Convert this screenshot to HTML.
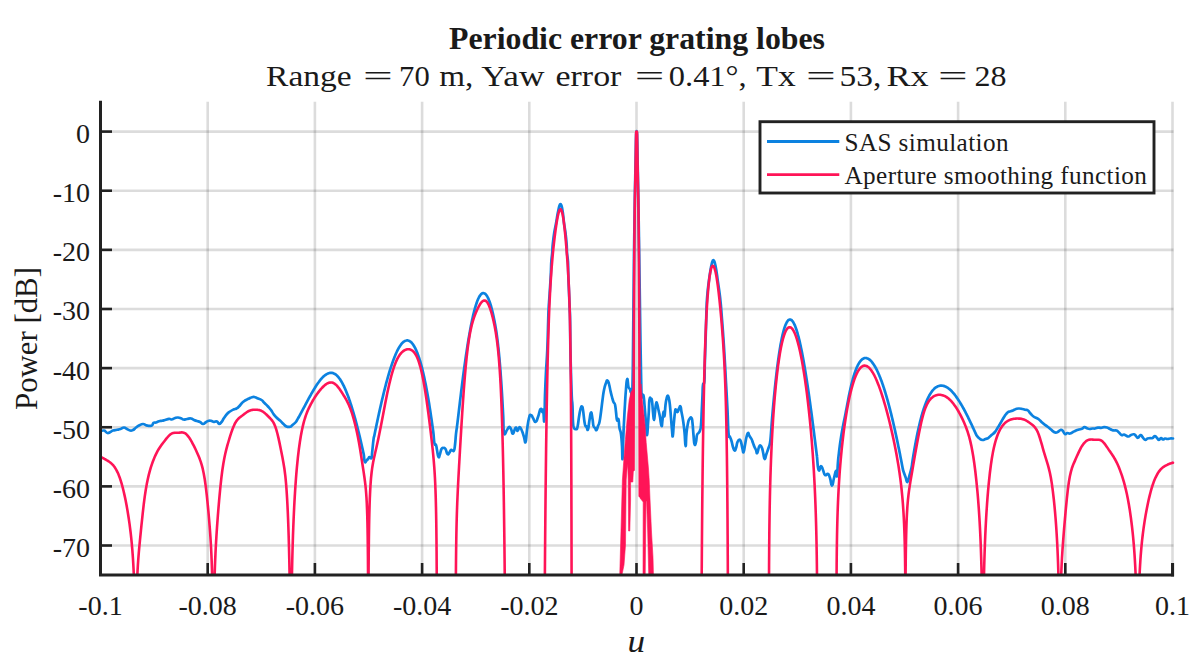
<!DOCTYPE html>
<html><head><meta charset="utf-8"><title>Periodic error grating lobes</title>
<style>
html,body{margin:0;padding:0;background:#fff;}
body{width:1200px;height:671px;overflow:hidden;font-family:"Liberation Serif",serif;}
svg{display:block}
text{font-family:"Liberation Serif",serif;fill:#1a1a1a}
</style></head><body>
<svg width="1200" height="671" viewBox="0 0 1200 671">
<rect width="1200" height="671" fill="#fff"/>
<defs><clipPath id="cp"><rect x="99" y="100" width="1076" height="475.4"/></clipPath></defs>
<g stroke="#262626" stroke-opacity="0.16" stroke-width="2.6" fill="none"><line x1="207.70" y1="101.8" x2="207.70" y2="575" /><line x1="314.90" y1="101.8" x2="314.90" y2="575" /><line x1="422.10" y1="101.8" x2="422.10" y2="575" /><line x1="529.30" y1="101.8" x2="529.30" y2="575" /><line x1="636.50" y1="101.8" x2="636.50" y2="575" /><line x1="743.70" y1="101.8" x2="743.70" y2="575" /><line x1="850.90" y1="101.8" x2="850.90" y2="575" /><line x1="958.10" y1="101.8" x2="958.10" y2="575" /><line x1="1065.30" y1="101.8" x2="1065.30" y2="575" /><line x1="1172.50" y1="101.8" x2="1172.50" y2="575" /><line x1="100.5" y1="131.60" x2="1173.5" y2="131.60" /><line x1="100.5" y1="190.73" x2="1173.5" y2="190.73" /><line x1="100.5" y1="249.86" x2="1173.5" y2="249.86" /><line x1="100.5" y1="308.99" x2="1173.5" y2="308.99" /><line x1="100.5" y1="368.12" x2="1173.5" y2="368.12" /><line x1="100.5" y1="427.25" x2="1173.5" y2="427.25" /><line x1="100.5" y1="486.38" x2="1173.5" y2="486.38" /><line x1="100.5" y1="545.51" x2="1173.5" y2="545.51" /></g>
<g clip-path="url(#cp)" fill="none" stroke-linejoin="round" stroke-linecap="round">
<path d="M100.50 431.00C101.43 430.87 102.67 430.37 104.00 430.50C105.33 430.63 104.57 430.83 105.50 431.50C106.43 432.17 106.30 432.81 107.50 433.00C108.70 433.19 108.53 432.87 110.00 432.20C111.47 431.53 111.13 431.14 113.00 430.50C114.87 429.86 115.00 430.20 117.00 429.80C119.00 429.40 118.63 429.61 120.50 429.00C122.37 428.39 122.27 427.50 124.00 427.50C125.73 427.50 125.40 428.20 127.00 429.00C128.60 429.80 128.40 430.23 130.00 430.50C131.60 430.77 131.40 430.80 133.00 430.00C134.60 429.20 134.40 428.70 136.00 427.50C137.60 426.30 137.13 426.43 139.00 425.50C140.87 424.57 141.13 424.05 143.00 424.00C144.87 423.95 144.40 424.82 146.00 425.30C147.60 425.78 147.40 425.75 149.00 425.80C150.60 425.85 150.80 426.30 152.00 425.50C153.20 424.70 152.43 423.60 153.50 422.80C154.57 422.00 154.53 422.93 156.00 422.50C157.47 422.07 157.40 421.65 159.00 421.20C160.60 420.75 160.40 421.12 162.00 420.80C163.60 420.48 163.13 420.53 165.00 420.00C166.87 419.47 167.27 418.93 169.00 418.80C170.73 418.67 169.90 419.71 171.50 419.50C173.10 419.29 173.27 418.53 175.00 418.00C176.73 417.47 176.40 417.45 178.00 417.50C179.60 417.55 179.53 417.67 181.00 418.20C182.47 418.73 181.90 419.29 183.50 419.50C185.10 419.71 185.00 419.27 187.00 419.00C189.00 418.73 189.13 418.23 191.00 418.50C192.87 418.77 192.40 419.33 194.00 420.00C195.60 420.67 195.40 420.47 197.00 421.00C198.60 421.53 198.40 421.20 200.00 422.00C201.60 422.80 201.53 423.87 203.00 424.00C204.47 424.13 204.17 423.30 205.50 422.50C206.83 421.70 206.53 421.45 208.00 421.00C209.47 420.55 209.40 420.59 211.00 420.80C212.60 421.01 212.40 421.61 214.00 421.80C215.60 421.99 215.67 420.97 217.00 421.50C218.33 422.03 217.80 423.67 219.00 423.80C220.20 423.93 220.17 423.55 221.50 422.00C222.83 420.45 222.53 420.13 224.00 418.00C225.47 415.87 225.40 415.73 227.00 414.00C228.60 412.27 228.27 412.70 230.00 411.50C231.73 410.30 231.77 410.30 233.50 409.50C235.23 408.70 235.03 409.30 236.50 408.50C237.97 407.70 237.53 407.97 239.00 406.50C240.47 405.03 240.40 404.60 242.00 403.00C243.60 401.40 243.27 401.62 245.00 400.50C246.73 399.38 246.63 399.68 248.50 398.80C250.37 397.92 250.27 397.63 252.00 397.20C253.73 396.77 253.40 396.85 255.00 397.20C256.60 397.55 256.27 397.75 258.00 398.50C259.73 399.25 259.77 398.80 261.50 400.00C263.23 401.20 262.77 401.27 264.50 403.00C266.23 404.73 266.27 404.63 268.00 406.50C269.73 408.37 269.53 408.00 271.00 410.00C272.47 412.00 272.03 412.00 273.50 414.00C274.97 416.00 274.77 415.77 276.50 417.50C278.23 419.23 278.13 418.77 280.00 420.50C281.87 422.23 281.77 422.40 283.50 424.00C285.23 425.60 284.77 425.75 286.50 426.50C288.23 427.25 288.40 427.20 290.00 426.80C291.60 426.40 290.90 426.32 292.50 425.00C294.10 423.68 294.85 423.04 296.00 421.84C296.80 420.63 296.37 421.22 296.80 420.50C297.23 419.77 297.17 419.86 297.60 419.13C298.03 418.39 297.97 418.48 298.40 417.73C298.83 416.98 298.77 417.08 299.20 416.31C299.63 415.55 299.57 415.65 300.00 414.87C300.43 414.10 300.37 414.20 300.80 413.42C301.23 412.63 301.17 412.73 301.60 411.94C302.03 411.15 301.97 411.25 302.40 410.46C302.83 409.66 302.77 409.76 303.20 408.96C303.63 408.16 303.57 408.26 304.00 407.46C304.43 406.65 304.37 406.75 304.80 405.95C305.23 405.15 305.17 405.25 305.60 404.44C306.03 403.64 305.97 403.74 306.40 402.94C306.83 402.14 306.77 402.24 307.20 401.44C307.63 400.64 307.57 400.74 308.00 399.94C308.43 399.15 308.37 399.25 308.80 398.46C309.23 397.68 309.17 397.77 309.60 396.99C310.03 396.21 309.97 396.31 310.40 395.54C310.83 394.77 310.77 394.87 311.20 394.11C311.63 393.35 311.57 393.44 312.00 392.69C312.43 391.95 312.37 392.04 312.80 391.31C313.23 390.57 313.17 390.66 313.60 389.95C314.03 389.23 313.97 389.32 314.40 388.62C314.83 387.92 314.77 388.00 315.20 387.32C315.63 386.64 315.57 386.73 316.00 386.06C316.43 385.40 316.37 385.48 316.80 384.84C317.23 384.21 317.17 384.28 317.60 383.67C318.03 383.05 317.97 383.13 318.40 382.53C318.83 381.94 318.77 382.01 319.20 381.45C319.63 380.88 319.57 380.95 320.00 380.41C320.43 379.88 320.37 379.94 320.80 379.43C321.23 378.92 321.17 378.99 321.60 378.51C322.03 378.03 321.97 378.09 322.40 377.64C322.83 377.20 322.77 377.25 323.20 376.84C323.63 376.43 323.57 376.48 324.00 376.10C324.43 375.72 324.37 375.77 324.80 375.43C325.23 375.09 325.17 375.13 325.60 374.83C326.03 374.53 325.97 374.56 326.40 374.30C326.83 374.04 326.77 374.07 327.20 373.85C327.63 373.63 327.57 373.66 328.00 373.48C328.43 373.31 328.37 373.32 328.80 373.19C329.23 373.06 329.17 373.08 329.60 372.99C330.03 372.91 329.97 372.91 330.40 372.87C330.83 372.84 330.77 372.84 331.20 372.85C331.63 372.86 331.57 372.86 332.00 372.92C332.43 372.98 332.37 372.97 332.80 373.08C333.23 373.20 333.17 373.18 333.60 373.35C334.03 373.52 333.97 373.49 334.40 373.72C334.83 373.94 334.77 373.91 335.20 374.19C335.63 374.47 335.57 374.43 336.00 374.77C336.43 375.11 336.37 375.06 336.80 375.46C337.23 375.85 337.17 375.80 337.60 376.26C338.03 376.71 337.97 376.65 338.40 377.16C338.83 377.68 338.77 377.61 339.20 378.18C339.63 378.75 339.57 378.67 340.00 379.30C340.43 379.93 340.37 379.84 340.80 380.52C341.23 381.21 341.17 381.12 341.60 381.85C342.03 382.59 341.97 382.49 342.40 383.28C342.83 384.07 342.77 383.97 343.20 384.81C343.63 385.66 343.57 385.55 344.00 386.44C344.43 387.34 344.37 387.22 344.80 388.17C345.23 389.12 345.17 389.00 345.60 389.99C346.03 390.99 345.97 390.86 346.40 391.91C346.83 392.96 346.77 392.83 347.20 393.93C347.63 395.02 347.57 394.88 348.00 396.03C348.43 397.18 348.37 397.03 348.80 398.23C349.23 399.43 349.17 399.27 349.60 400.52C350.03 401.76 349.97 401.60 350.40 402.89C350.83 404.19 350.77 404.02 351.20 405.36C351.63 406.70 351.57 406.53 352.00 407.91C352.43 409.29 352.37 409.12 352.80 410.55C353.23 411.97 353.17 411.79 353.60 413.27C354.03 414.74 353.97 414.55 354.40 416.07C354.83 417.58 354.77 417.39 355.20 418.95C355.63 420.51 355.57 420.31 356.00 421.91C356.43 423.51 356.37 423.31 356.80 424.95C357.23 426.60 357.17 426.39 357.60 428.07C358.03 429.76 357.97 429.54 358.40 431.27C358.83 432.99 358.77 432.77 359.20 434.54C359.63 436.30 359.57 436.08 360.00 437.88C360.43 439.68 360.37 439.46 360.80 441.30C361.23 443.14 361.17 442.90 361.60 444.78C362.03 446.66 361.97 446.42 362.40 448.34C362.83 450.25 362.83 450.26 363.20 451.96C363.57 453.66 363.37 452.10 363.80 454.72C364.23 457.35 364.08 460.26 364.80 461.80C365.52 463.34 365.65 461.25 366.50 460.50C367.35 459.75 367.20 459.93 368.00 459.00C368.80 458.07 368.57 457.27 369.50 457.00C370.43 456.73 370.78 459.33 371.50 458.00C372.20 456.67 371.67 456.88 372.20 452.00C372.73 447.12 372.94 444.04 373.50 439.70C374.06 435.36 373.87 437.83 374.30 435.72C374.73 433.61 374.67 433.87 375.10 431.79C375.53 429.71 375.47 429.96 375.90 427.91C376.33 425.85 376.27 426.10 376.70 424.08C377.13 422.05 377.07 422.30 377.50 420.30C377.93 418.30 377.87 418.55 378.30 416.58C378.73 414.61 378.67 414.85 379.10 412.91C379.53 410.98 379.47 411.22 379.90 409.31C380.33 407.41 380.27 407.64 380.70 405.77C381.13 403.90 381.07 404.13 381.50 402.30C381.93 400.46 381.87 400.69 382.30 398.89C382.73 397.10 382.67 397.32 383.10 395.56C383.53 393.80 383.47 394.02 383.90 392.30C384.33 390.58 384.27 390.79 384.70 389.11C385.13 387.43 385.07 387.64 385.50 386.00C385.93 384.37 385.87 384.57 386.30 382.97C386.73 381.38 386.67 381.58 387.10 380.03C387.53 378.48 387.47 378.67 387.90 377.17C388.33 375.67 388.27 375.85 388.70 374.40C389.13 372.94 389.07 373.12 389.50 371.71C389.93 370.31 389.87 370.48 390.30 369.12C390.73 367.77 390.67 367.93 391.10 366.63C391.53 365.32 391.47 365.48 391.90 364.23C392.33 362.98 392.27 363.13 392.70 361.93C393.13 360.74 393.07 360.88 393.50 359.74C393.93 358.59 393.87 358.73 394.30 357.65C394.73 356.56 394.67 356.69 395.10 355.66C395.53 354.63 395.47 354.76 395.90 353.79C396.33 352.82 396.27 352.93 396.70 352.03C397.13 351.12 397.07 351.22 397.50 350.38C397.93 349.53 397.87 349.63 398.30 348.84C398.73 348.06 398.67 348.15 399.10 347.43C399.53 346.71 399.47 346.80 399.90 346.14C400.33 345.49 400.27 345.56 400.70 344.97C401.13 344.39 401.07 344.46 401.50 343.93C401.93 343.41 401.87 343.47 402.30 343.02C402.73 342.57 402.67 342.62 403.10 342.24C403.53 341.86 403.47 341.91 403.90 341.60C404.33 341.29 404.27 341.32 404.70 341.09C405.13 340.85 405.07 340.88 405.50 340.72C405.93 340.56 405.87 340.57 406.30 340.49C406.73 340.40 406.67 340.41 407.10 340.40C407.53 340.39 407.47 340.39 407.90 340.46C408.33 340.53 408.27 340.51 408.70 340.67C409.13 340.82 409.07 340.79 409.50 341.02C409.93 341.26 409.87 341.22 410.30 341.54C410.73 341.85 410.67 341.80 411.10 342.20C411.53 342.60 411.47 342.54 411.90 343.03C412.33 343.51 412.27 343.44 412.70 344.01C413.13 344.58 413.07 344.51 413.50 345.16C413.93 345.82 413.87 345.73 414.30 346.48C414.73 347.22 414.67 347.12 415.10 347.96C415.53 348.79 415.47 348.68 415.90 349.61C416.33 350.54 416.27 350.42 416.70 351.44C417.13 352.46 417.07 352.32 417.50 353.44C417.93 354.55 417.87 354.40 418.30 355.61C418.73 356.82 418.67 356.66 419.10 357.97C419.53 359.28 419.47 359.11 419.90 360.51C420.33 361.91 420.27 361.73 420.70 363.24C421.13 364.74 421.07 364.54 421.50 366.15C421.93 367.75 421.87 367.54 422.30 369.25C422.73 370.95 422.67 370.73 423.10 372.54C423.53 374.35 423.47 374.12 423.90 376.03C424.33 377.94 424.27 377.70 424.70 379.72C425.13 381.73 425.07 381.48 425.50 383.60C425.93 385.73 425.87 385.45 426.30 387.69C426.73 389.92 426.67 389.63 427.10 391.98C427.53 394.32 427.47 394.02 427.90 396.48C428.33 398.93 428.27 398.62 428.70 401.18C429.13 403.75 429.07 403.42 429.50 406.10C429.93 408.78 429.87 408.44 430.30 411.23C430.73 414.03 430.67 413.67 431.10 416.58C431.53 419.49 431.47 419.12 431.90 422.15C432.33 425.18 432.27 424.79 432.70 427.94C433.13 431.08 433.02 429.80 433.50 433.95C433.98 438.10 433.83 440.55 434.50 443.50C435.17 446.45 435.33 443.27 436.00 445.00C436.67 446.73 436.33 446.80 437.00 450.00C437.67 453.20 437.70 455.93 438.50 457.00C439.30 458.07 439.20 456.13 440.00 454.00C440.80 451.87 440.57 450.60 441.50 449.00C442.43 447.40 442.43 448.00 443.50 448.00C444.57 448.00 444.43 447.40 445.50 449.00C446.57 450.60 446.43 453.07 447.50 454.00C448.57 454.93 448.57 453.57 449.50 452.50C450.43 451.43 450.20 450.53 451.00 450.00C451.80 449.47 451.70 450.37 452.50 450.50C453.30 450.63 453.33 451.97 454.00 450.50C454.67 449.03 454.47 449.42 455.00 445.00C455.53 440.58 455.52 438.47 456.00 433.91C456.48 429.36 456.37 431.21 456.80 427.93C457.23 424.65 457.17 425.05 457.60 421.61C458.03 418.17 457.97 418.58 458.40 415.01C458.83 411.45 458.77 411.86 459.20 408.25C459.63 404.63 459.57 405.05 460.00 401.46C460.43 397.88 460.37 398.32 460.80 394.80C461.23 391.29 461.17 391.73 461.60 388.30C462.03 384.87 461.97 385.29 462.40 381.96C462.83 378.62 462.77 379.03 463.20 375.78C463.63 372.53 463.57 372.93 464.00 369.78C464.43 366.62 464.37 367.01 464.80 363.95C465.23 360.90 465.17 361.27 465.60 358.31C466.03 355.36 465.97 355.72 466.40 352.87C466.83 350.02 466.77 350.37 467.20 347.62C467.63 344.88 467.57 345.22 468.00 342.58C468.43 339.95 468.37 340.27 468.80 337.76C469.23 335.24 469.17 335.54 469.60 333.14C470.03 330.74 469.97 331.04 470.40 328.76C470.83 326.48 470.77 326.75 471.20 324.60C471.63 322.45 471.57 322.71 472.00 320.68C472.43 318.66 472.37 318.90 472.80 317.01C473.23 315.11 473.17 315.34 473.60 313.58C474.03 311.82 473.97 312.03 474.40 310.41C474.83 308.79 474.77 308.98 475.20 307.50C475.63 306.02 475.57 306.19 476.00 304.85C476.43 303.51 476.37 303.67 476.80 302.47C477.23 301.27 477.17 301.41 477.60 300.35C478.03 299.29 477.97 299.42 478.40 298.50C478.83 297.58 478.77 297.69 479.20 296.92C479.63 296.15 479.57 296.23 480.00 295.61C480.43 294.98 480.37 295.05 480.80 294.57C481.23 294.09 481.17 294.14 481.60 293.81C482.03 293.48 481.97 293.51 482.40 293.33C482.83 293.14 482.77 293.16 483.20 293.12C483.63 293.09 483.57 293.08 484.00 293.20C484.43 293.31 484.37 293.29 484.80 293.55C485.23 293.82 485.17 293.78 485.60 294.20C486.03 294.61 485.97 294.55 486.40 295.12C486.83 295.70 486.77 295.61 487.20 296.34C487.63 297.07 487.57 296.97 488.00 297.85C488.43 298.73 488.37 298.61 488.80 299.65C489.23 300.68 489.17 300.54 489.60 301.74C490.03 302.93 489.97 302.77 490.40 304.13C490.83 305.48 490.77 305.30 491.20 306.81C491.63 308.32 491.57 308.12 492.00 309.80C492.43 311.47 492.37 311.25 492.80 313.08C493.23 314.92 493.17 314.68 493.60 316.67C494.03 318.67 493.97 318.39 494.40 320.57C494.83 322.75 494.77 322.43 495.20 324.84C495.63 327.25 495.57 326.90 496.00 329.61C496.43 332.32 496.37 331.92 496.80 335.00C497.23 338.08 497.17 337.63 497.60 341.15C498.03 344.66 497.97 344.16 498.40 348.18C498.83 352.20 498.77 351.63 499.20 356.22C499.63 360.82 499.57 360.17 500.00 365.41C500.43 370.64 500.37 369.91 500.80 375.86C501.23 381.80 501.17 380.98 501.60 387.70C502.03 394.42 501.97 393.50 502.40 401.07C502.83 408.64 502.77 407.60 503.20 416.09C503.63 424.58 503.20 429.18 504.00 432.89C505.01 436.60 505.67 431.57 507.00 430.00C508.33 428.43 507.93 427.27 509.00 427.00C510.07 426.73 509.93 427.24 511.00 429.00C512.07 430.76 511.77 433.97 513.00 433.60C514.23 433.23 514.37 428.29 515.60 427.60C516.83 426.91 516.53 431.16 517.60 431.00C518.67 430.84 518.43 427.00 519.60 427.00C520.77 427.00 520.83 428.33 522.00 431.00C523.17 433.67 523.04 434.07 524.00 437.00C524.96 439.93 524.80 443.87 525.60 442.00C526.40 440.13 526.09 436.40 527.00 430.00C527.91 423.60 527.93 422.00 529.00 418.00C530.07 414.00 529.93 415.00 531.00 415.00C532.07 415.00 531.77 416.13 533.00 418.00C534.23 419.87 534.27 422.27 535.60 422.00C536.93 421.73 536.67 420.47 538.00 417.00C539.33 413.53 539.43 410.33 540.60 409.00C541.77 407.67 541.68 411.60 542.40 412.00C543.12 412.40 542.82 407.97 543.30 410.50C543.78 413.03 543.83 421.63 544.20 421.50C544.57 421.37 544.49 417.07 544.70 410.00C544.91 402.93 544.70 405.13 545.00 395.00C545.35 384.87 545.39 384.13 546.00 372.00C546.61 359.87 546.71 363.23 547.30 349.50C547.89 335.77 547.85 331.30 548.20 320.50C548.55 309.70 548.23 315.99 548.60 309.00C548.97 302.01 549.01 303.45 549.60 294.30C550.19 285.15 550.35 283.34 550.80 274.70C551.25 266.06 550.93 267.69 551.30 261.90C551.67 256.11 551.83 257.51 552.20 253.00C552.57 248.49 552.20 250.33 552.70 245.00C553.23 239.67 553.29 238.87 554.20 233.00C555.11 227.13 555.01 229.00 556.10 223.00C557.19 217.00 557.13 215.57 558.30 210.50C559.47 205.43 559.38 204.00 560.50 204.00C561.62 204.00 561.57 205.43 562.50 210.50C563.43 215.57 563.20 217.00 564.00 223.00C564.80 229.00 564.78 227.13 565.50 233.00C566.22 238.87 566.30 239.67 566.70 245.00C567.00 250.33 566.70 248.49 567.00 253.00C567.35 257.51 567.65 256.11 568.00 261.90C568.30 267.69 568.01 266.06 568.30 274.70C568.59 283.34 568.73 285.15 569.10 294.30C569.47 303.45 569.43 302.01 569.70 309.00C569.97 315.99 569.91 309.70 570.10 320.50C570.29 331.30 570.10 330.43 570.40 349.50C570.80 368.57 571.04 376.93 571.60 392.00C572.16 407.07 572.13 398.00 572.50 406.00C572.87 414.00 572.60 416.13 573.00 422.00C573.40 427.87 573.20 426.13 574.00 428.00C574.80 429.87 575.07 429.27 576.00 429.00C576.93 428.73 576.70 430.20 577.50 427.00C578.30 423.80 578.20 421.80 579.00 417.00C579.80 412.20 579.70 411.80 580.50 409.00C581.30 406.20 581.33 406.23 582.00 406.50C582.67 406.77 582.33 405.87 583.00 410.00C583.67 414.13 583.83 417.73 584.50 422.00C585.17 426.27 584.97 424.80 585.50 426.00C586.03 427.20 585.83 425.57 586.50 426.50C587.17 427.43 587.20 431.23 588.00 429.50C588.80 427.77 588.70 424.53 589.50 420.00C590.30 415.47 590.20 412.77 591.00 412.50C591.80 412.23 591.83 415.40 592.50 419.00C593.17 422.60 592.83 423.60 593.50 426.00C594.17 428.40 594.20 426.93 595.00 428.00C595.80 429.07 595.70 430.53 596.50 430.00C597.30 429.47 597.20 428.13 598.00 426.00C598.80 423.87 598.70 425.73 599.50 422.00C600.30 418.27 600.20 417.87 601.00 412.00C601.80 406.13 601.70 405.87 602.50 400.00C603.30 394.13 603.07 394.53 604.00 390.00C604.93 385.47 605.07 385.53 606.00 383.00C606.93 380.47 606.70 380.23 607.50 380.50C608.30 380.77 608.20 381.20 609.00 384.00C609.80 386.80 609.70 387.53 610.50 391.00C611.30 394.47 611.20 394.07 612.00 397.00C612.80 399.93 612.70 400.00 613.50 402.00C614.30 404.00 614.33 401.83 615.00 404.50C615.67 407.17 615.47 407.87 616.00 412.00C616.53 416.13 616.33 418.00 617.00 420.00C617.67 422.00 617.83 417.37 618.50 419.50C619.17 421.63 618.83 424.13 619.50 428.00C620.17 431.87 620.33 429.20 621.00 434.00C621.67 438.80 621.60 439.33 622.00 446.00C622.40 452.67 622.18 460.60 622.50 459.00C622.82 457.40 622.80 449.87 623.20 440.00C623.60 430.13 623.52 431.60 624.00 422.00C624.48 412.40 624.47 412.80 625.00 404.00C625.53 395.20 625.41 395.67 626.00 389.00C626.59 382.33 626.53 379.53 627.20 379.00C627.87 378.47 627.75 384.33 628.50 387.00C629.25 389.67 629.33 387.93 630.00 389.00C630.67 390.07 630.31 393.40 631.00 391.00C631.69 388.60 631.80 416.53 632.60 380.00C633.40 343.47 633.25 310.00 634.00 254.00C634.75 198.00 634.71 202.80 635.40 170.00C636.09 137.20 635.96 131.00 636.60 131.00C637.24 131.00 637.11 137.20 637.80 170.00C638.49 202.80 638.35 200.13 639.20 254.00C640.05 307.87 640.25 334.40 641.00 372.00C641.75 409.60 641.33 388.73 642.00 395.00C642.67 401.27 642.83 392.83 643.50 395.50C644.17 398.17 643.97 399.27 644.50 405.00C645.03 410.73 644.97 410.33 645.50 417.00C646.03 423.67 646.05 425.33 646.50 430.00C646.95 434.67 646.80 436.10 647.20 434.50C647.60 432.90 647.57 430.00 648.00 424.00C648.43 418.00 648.40 418.53 648.80 412.00C649.20 405.47 648.91 402.97 649.50 399.50C650.09 396.03 650.33 398.60 651.00 399.00C651.67 399.40 651.47 397.53 652.00 401.00C652.53 404.47 652.47 406.93 653.00 412.00C653.53 417.07 653.47 420.00 654.00 420.00C654.53 420.00 654.47 416.27 655.00 412.00C655.53 407.73 655.47 406.27 656.00 404.00C656.53 401.73 656.33 401.90 657.00 403.50C657.67 405.10 657.70 406.40 658.50 410.00C659.30 413.60 659.20 412.73 660.00 417.00C660.80 421.27 660.83 425.20 661.50 426.00C662.17 426.80 661.97 423.73 662.50 420.00C663.03 416.27 662.97 413.07 663.50 412.00C664.03 410.93 663.97 417.87 664.50 416.00C665.03 414.13 664.97 409.53 665.50 405.00C666.03 400.47 665.91 401.53 666.50 399.00C667.09 396.47 667.03 395.50 667.70 395.50C668.37 395.50 668.39 396.20 669.00 399.00C669.61 401.80 669.47 400.93 670.00 406.00C670.53 411.07 670.47 411.60 671.00 418.00C671.53 424.40 671.52 425.20 672.00 430.00C672.48 434.80 672.32 437.60 672.80 436.00C673.28 434.40 673.21 430.40 673.80 424.00C674.39 417.60 674.41 415.87 675.00 412.00C675.59 408.13 675.33 409.50 676.00 409.50C676.67 409.50 676.70 412.27 677.50 412.00C678.30 411.73 678.20 409.97 679.00 408.50C679.80 407.03 679.83 405.57 680.50 406.50C681.17 407.43 680.83 408.40 681.50 412.00C682.17 415.60 682.20 414.67 683.00 420.00C683.80 425.33 683.81 425.07 684.50 432.00C685.19 438.93 685.07 445.73 685.60 446.00C686.13 446.27 685.86 439.13 686.50 433.00C687.14 426.87 687.20 426.73 688.00 423.00C688.80 419.27 688.57 420.33 689.50 419.00C690.43 417.67 690.70 416.93 691.50 418.00C692.30 419.07 691.97 418.47 692.50 423.00C693.03 427.53 692.97 429.40 693.50 435.00C694.03 440.60 693.83 442.13 694.50 444.00C695.17 445.87 695.33 444.40 696.00 442.00C696.67 439.60 696.33 437.40 697.00 435.00C697.67 432.60 697.70 434.20 698.50 433.00C699.30 431.80 699.33 432.63 700.00 430.50C700.67 428.37 700.52 430.47 701.00 425.00C701.48 419.53 701.40 418.00 701.80 410.00C702.20 402.00 702.18 401.67 702.50 395.00C702.82 388.33 702.50 388.73 703.00 385.00C703.51 381.27 703.92 386.55 704.40 381.00C704.80 375.45 704.48 375.24 704.80 364.20C705.12 353.16 705.20 352.45 705.60 339.60C706.00 326.75 706.01 325.49 706.30 316.00C706.59 306.51 706.38 310.13 706.70 304.00C707.02 297.87 706.97 298.73 707.50 293.00C708.03 287.27 707.98 288.10 708.70 282.50C709.42 276.90 709.40 276.93 710.20 272.00C711.00 267.07 710.87 267.20 711.70 264.00C712.53 260.80 712.39 260.00 713.30 260.00C714.21 260.00 714.19 260.53 715.10 264.00C716.01 267.47 715.90 267.93 716.70 273.00C717.50 278.07 717.33 277.53 718.10 283.00C718.87 288.47 718.88 287.77 719.60 293.50C720.32 299.23 720.24 298.63 720.80 304.50C721.36 310.37 720.98 306.14 721.70 315.50C722.42 324.86 722.62 326.61 723.50 339.60C724.38 352.59 724.36 353.16 725.00 364.20C725.64 375.24 725.23 368.79 725.90 381.00C726.57 393.21 726.81 396.13 727.50 410.00C728.19 423.87 727.83 425.80 728.50 433.00C729.17 440.20 729.20 434.87 730.00 437.00C730.80 439.13 730.70 438.33 731.50 441.00C732.30 443.67 732.20 444.47 733.00 447.00C733.80 449.53 733.70 450.23 734.50 450.50C735.30 450.77 735.20 450.27 736.00 448.00C736.80 445.73 736.57 444.27 737.50 442.00C738.43 439.73 738.57 439.50 739.50 439.50C740.43 439.50 740.20 439.47 741.00 442.00C741.80 444.53 741.81 446.33 742.50 449.00C743.19 451.67 742.93 453.07 743.60 452.00C744.27 450.93 744.23 449.00 745.00 445.00C745.77 441.00 745.70 440.20 746.50 437.00C747.30 433.80 747.20 433.27 748.00 433.00C748.80 432.73 748.57 434.40 749.50 436.00C750.43 437.60 750.57 437.13 751.50 439.00C752.43 440.87 752.20 440.87 753.00 443.00C753.80 445.13 753.70 445.13 754.50 447.00C755.30 448.87 755.28 448.40 756.00 450.00C756.72 451.60 756.40 453.80 757.20 453.00C758.00 452.20 758.12 449.00 759.00 447.00C759.88 445.00 759.70 445.23 760.50 445.50C761.30 445.77 761.28 446.00 762.00 448.00C762.72 450.00 762.51 450.07 763.20 453.00C763.89 455.93 763.75 458.73 764.60 459.00C765.45 459.27 765.36 456.93 766.40 454.00C767.44 451.07 767.54 450.93 768.50 448.00C769.46 445.07 769.33 447.00 770.00 443.00C770.67 439.00 770.47 439.26 771.00 433.00C771.53 426.74 771.52 425.61 772.00 419.53C772.48 413.44 772.37 415.03 772.80 410.19C773.23 405.35 773.17 405.94 773.60 401.37C774.03 396.79 773.97 397.35 774.40 393.05C774.83 388.74 774.77 389.26 775.20 385.22C775.63 381.18 775.57 381.67 776.00 377.88C776.43 374.09 776.37 374.55 776.80 371.02C777.23 367.49 777.17 367.91 777.60 364.63C778.03 361.34 777.97 361.74 778.40 358.70C778.83 355.66 778.77 356.03 779.20 353.23C779.63 350.43 779.57 350.76 780.00 348.20C780.43 345.63 780.37 345.94 780.80 343.61C781.23 341.27 781.17 341.55 781.60 339.44C782.03 337.33 781.97 337.59 782.40 335.70C782.83 333.81 782.77 334.04 783.20 332.37C783.63 330.70 783.57 330.90 784.00 329.44C784.43 327.99 784.37 328.16 784.80 326.91C785.23 325.67 785.17 325.81 785.60 324.77C786.03 323.73 785.97 323.85 786.40 323.01C786.83 322.17 786.77 322.26 787.20 321.62C787.63 320.97 787.57 321.04 788.00 320.59C788.43 320.13 788.37 320.18 788.80 319.91C789.23 319.64 789.17 319.67 789.60 319.58C790.03 319.50 789.97 319.50 790.40 319.59C790.83 319.68 790.77 319.66 791.20 319.93C791.63 320.20 791.57 320.15 792.00 320.59C792.43 321.02 792.37 320.96 792.80 321.56C793.23 322.16 793.17 322.08 793.60 322.84C794.03 323.60 793.97 323.50 794.40 324.41C794.83 325.33 794.77 325.21 795.20 326.28C795.63 327.34 795.57 327.20 796.00 328.42C796.43 329.63 796.37 329.47 796.80 330.83C797.23 332.19 797.17 332.01 797.60 333.51C798.03 335.01 797.97 334.81 798.40 336.44C798.83 338.07 798.77 337.86 799.20 339.62C799.63 341.38 799.57 341.15 800.00 343.04C800.43 344.92 800.37 344.68 800.80 346.69C801.23 348.69 801.17 348.44 801.60 350.56C802.03 352.68 801.97 352.41 802.40 354.64C802.83 356.87 802.77 356.59 803.20 358.93C803.63 361.27 803.57 360.97 804.00 363.42C804.43 365.86 804.37 365.55 804.80 368.09C805.23 370.63 805.17 370.31 805.60 372.95C806.03 375.58 805.97 375.25 806.40 377.98C806.83 380.70 806.77 380.36 807.20 383.17C807.63 385.98 807.57 385.62 808.00 388.52C808.43 391.41 808.37 391.04 808.80 394.01C809.23 396.98 809.17 396.61 809.60 399.65C810.03 402.69 809.97 402.30 810.40 405.41C810.83 408.52 810.77 408.13 811.20 411.30C811.63 414.47 811.57 414.07 812.00 417.30C812.43 420.53 812.37 420.13 812.80 423.41C813.23 426.70 813.17 426.29 813.60 429.62C814.03 432.95 813.97 432.54 814.40 435.92C814.83 439.30 814.77 438.87 815.20 442.29C815.63 445.72 815.57 445.29 816.00 448.75C816.43 452.20 816.53 453.09 816.80 455.26C817.00 457.44 816.80 452.97 817.00 456.90C817.48 460.83 817.53 467.57 818.60 470.00C819.67 472.43 819.83 466.00 821.00 466.00C822.17 466.00 821.93 467.60 823.00 470.00C824.07 472.40 823.67 473.93 825.00 475.00C826.33 476.07 826.67 473.20 828.00 474.00C829.33 474.80 828.93 474.91 830.00 478.00C831.07 481.09 830.93 485.60 832.00 485.60C833.07 485.60 832.93 481.89 834.00 478.00C835.07 474.11 835.20 471.53 836.00 471.00C836.80 470.47 836.47 478.52 837.00 476.00C837.53 473.48 837.52 467.43 838.00 461.55C838.48 455.67 838.37 457.75 838.80 453.94C839.23 450.14 839.17 450.62 839.60 447.27C840.03 443.93 839.97 444.36 840.40 441.40C840.83 438.44 840.77 438.83 841.20 436.19C841.63 433.55 841.57 433.90 842.00 431.50C842.43 429.09 842.37 429.42 842.80 427.19C843.23 424.95 843.17 425.26 843.60 423.12C844.03 420.98 843.97 421.28 844.40 419.16C844.83 417.04 844.77 417.32 845.20 415.16C845.63 413.00 845.57 413.27 846.00 411.06C846.43 408.86 846.37 409.12 846.80 406.90C847.23 404.68 847.17 404.94 847.60 402.73C848.03 400.52 847.97 400.78 848.40 398.62C848.83 396.46 848.77 396.71 849.20 394.64C849.63 392.56 849.57 392.80 850.00 390.83C850.43 388.86 850.37 389.09 850.80 387.25C851.23 385.40 851.17 385.62 851.60 383.90C852.03 382.18 851.97 382.39 852.40 380.79C852.83 379.19 852.77 379.38 853.20 377.90C853.63 376.41 853.57 376.59 854.00 375.23C854.43 373.86 854.37 374.02 854.80 372.77C855.23 371.51 855.17 371.67 855.60 370.52C856.03 369.38 855.97 369.51 856.40 368.48C856.83 367.44 856.77 367.57 857.20 366.63C857.63 365.70 857.57 365.81 858.00 364.98C858.43 364.15 858.37 364.25 858.80 363.52C859.23 362.79 859.17 362.88 859.60 362.25C860.03 361.61 859.97 361.69 860.40 361.15C860.83 360.61 860.77 360.67 861.20 360.22C861.63 359.77 861.57 359.82 862.00 359.46C862.43 359.10 862.37 359.14 862.80 358.87C863.23 358.60 863.17 358.63 863.60 358.43C864.03 358.24 863.97 358.26 864.40 358.15C864.83 358.04 864.77 358.05 865.20 358.02C865.63 357.98 865.57 357.98 866.00 358.03C866.43 358.07 866.37 358.06 866.80 358.17C867.23 358.29 867.17 358.27 867.60 358.45C868.03 358.63 867.97 358.61 868.40 358.86C868.83 359.11 868.77 359.07 869.20 359.39C869.63 359.70 869.57 359.66 870.00 360.03C870.43 360.41 870.37 360.36 870.80 360.79C871.23 361.23 871.17 361.17 871.60 361.66C872.03 362.15 871.97 362.09 872.40 362.64C872.83 363.19 872.77 363.12 873.20 363.73C873.63 364.34 873.57 364.26 874.00 364.92C874.43 365.59 874.37 365.50 874.80 366.22C875.23 366.95 875.17 366.85 875.60 367.63C876.03 368.41 875.97 368.31 876.40 369.14C876.83 369.97 876.77 369.87 877.20 370.75C877.63 371.64 877.57 371.52 878.00 372.47C878.43 373.41 878.37 373.28 878.80 374.28C879.23 375.27 879.17 375.14 879.60 376.19C880.03 377.23 879.97 377.10 880.40 378.20C880.83 379.29 880.77 379.15 881.20 380.30C881.63 381.45 881.57 381.30 882.00 382.50C882.43 383.70 882.37 383.55 882.80 384.79C883.23 386.04 883.17 385.88 883.60 387.18C884.03 388.47 883.97 388.31 884.40 389.65C884.83 391.00 884.77 390.83 885.20 392.22C885.63 393.61 885.57 393.44 886.00 394.88C886.43 396.31 886.37 396.13 886.80 397.62C887.23 399.10 887.17 398.91 887.60 400.44C888.03 401.98 887.97 401.78 888.40 403.36C888.83 404.93 888.77 404.73 889.20 406.35C889.63 407.97 889.57 407.77 890.00 409.43C890.43 411.10 890.37 410.89 890.80 412.59C891.23 414.30 891.17 414.08 891.60 415.83C892.03 417.58 891.97 417.36 892.40 419.15C892.83 420.94 892.77 420.72 893.20 422.55C893.63 424.38 893.57 424.15 894.00 426.02C894.43 427.89 894.37 427.65 894.80 429.57C895.23 431.48 895.17 431.24 895.60 433.19C896.03 435.14 895.97 434.89 896.40 436.88C896.83 438.87 896.77 438.62 897.20 440.64C897.63 442.67 897.57 442.41 898.00 444.48C898.43 446.54 898.37 446.28 898.80 448.38C899.23 450.48 899.17 450.21 899.60 452.35C900.03 454.48 899.97 454.22 900.40 456.39C900.83 458.56 900.77 458.28 901.20 460.49C901.63 462.69 901.57 462.41 902.00 464.65C902.43 466.89 902.53 467.47 902.80 468.88C903.00 470.29 902.80 467.78 903.00 469.95C903.72 472.11 904.30 473.79 905.50 477.00C906.70 480.21 906.49 482.27 907.50 482.00C908.51 481.73 908.23 479.80 909.30 476.00C910.37 472.20 910.70 471.36 911.50 467.74C912.30 464.11 911.87 465.19 912.30 462.41C912.73 459.63 912.67 459.98 913.10 457.32C913.53 454.66 913.47 454.99 913.90 452.45C914.33 449.91 914.27 450.22 914.70 447.79C915.13 445.37 915.07 445.67 915.50 443.36C915.93 441.04 915.87 441.33 916.30 439.13C916.73 436.92 916.67 437.19 917.10 435.10C917.53 433.01 917.47 433.26 917.90 431.27C918.33 429.28 918.27 429.53 918.70 427.64C919.13 425.75 919.07 425.99 919.50 424.20C919.93 422.41 919.87 422.63 920.30 420.94C920.73 419.25 920.67 419.46 921.10 417.86C921.53 416.27 921.47 416.46 921.90 414.96C922.33 413.45 922.27 413.64 922.70 412.22C923.13 410.81 923.07 410.98 923.50 409.66C923.93 408.33 923.87 408.49 924.30 407.25C924.73 406.00 924.67 406.15 925.10 404.99C925.53 403.83 925.47 403.97 925.90 402.89C926.33 401.81 926.27 401.94 926.70 400.93C927.13 399.92 927.07 400.05 927.50 399.11C927.93 398.18 927.87 398.29 928.30 397.43C928.73 396.57 928.67 396.68 929.10 395.88C929.53 395.09 929.47 395.18 929.90 394.46C930.33 393.73 930.27 393.82 930.70 393.15C931.13 392.49 931.07 392.57 931.50 391.97C931.93 391.37 931.87 391.44 932.30 390.90C932.73 390.36 932.67 390.42 933.10 389.94C933.53 389.46 933.47 389.52 933.90 389.09C934.33 388.66 934.27 388.71 934.70 388.34C935.13 387.97 935.07 388.01 935.50 387.69C935.93 387.37 935.87 387.41 936.30 387.14C936.73 386.87 936.67 386.90 937.10 386.68C937.53 386.46 937.47 386.48 937.90 386.31C938.33 386.13 938.27 386.15 938.70 386.02C939.13 385.89 939.07 385.90 939.50 385.81C939.93 385.72 939.87 385.73 940.30 385.68C940.73 385.63 940.67 385.63 941.10 385.62C941.53 385.61 941.47 385.61 941.90 385.64C942.33 385.67 942.27 385.66 942.70 385.73C943.13 385.79 943.07 385.78 943.50 385.89C943.93 385.99 943.87 385.97 944.30 386.11C944.73 386.25 944.67 386.23 945.10 386.41C945.53 386.58 945.47 386.56 945.90 386.77C946.33 386.98 946.27 386.95 946.70 387.19C947.13 387.44 947.07 387.41 947.50 387.68C947.93 387.96 947.87 387.93 948.30 388.24C948.73 388.55 948.67 388.51 949.10 388.85C949.53 389.19 949.47 389.15 949.90 389.52C950.33 389.90 950.27 389.85 950.70 390.25C951.13 390.66 951.07 390.60 951.50 391.04C951.93 391.47 951.87 391.42 952.30 391.88C952.73 392.34 952.67 392.28 953.10 392.77C953.53 393.26 953.47 393.20 953.90 393.72C954.33 394.23 954.27 394.17 954.70 394.71C955.13 395.25 955.07 395.18 955.50 395.75C955.93 396.32 955.87 396.25 956.30 396.84C956.73 397.44 956.67 397.36 957.10 397.98C957.53 398.60 957.47 398.52 957.90 399.16C958.33 399.80 958.27 399.72 958.70 400.38C959.13 401.04 959.07 400.96 959.50 401.64C959.93 402.33 959.87 402.24 960.30 402.94C960.73 403.65 960.67 403.56 961.10 404.28C961.53 405.01 961.47 404.92 961.90 405.66C962.33 406.40 962.27 406.31 962.70 407.07C963.13 407.83 963.07 407.73 963.50 408.51C963.93 409.29 963.87 409.19 964.30 409.99C964.73 410.78 964.67 410.68 965.10 411.49C965.53 412.30 965.47 412.20 965.90 413.03C966.33 413.85 966.27 413.75 966.70 414.59C967.13 415.43 967.07 415.32 967.50 416.18C967.93 417.03 967.87 416.92 968.30 417.79C968.73 418.65 968.67 418.54 969.10 419.42C969.53 420.30 969.47 420.19 969.90 421.07C970.33 421.96 970.27 421.85 970.70 422.75C971.13 423.65 971.07 423.53 971.50 424.44C971.93 425.35 971.87 425.23 972.30 426.15C972.73 427.06 972.67 426.95 973.10 427.87C973.53 428.79 973.47 428.68 973.90 429.61C974.33 430.54 974.27 430.42 974.70 431.36C975.13 432.29 975.07 432.17 975.50 433.11C975.93 434.05 976.03 434.29 976.30 434.88C976.50 435.47 976.30 434.36 976.50 435.33C977.35 436.29 977.90 437.25 979.50 438.50C981.10 439.75 980.90 439.87 982.50 440.00C984.10 440.13 983.90 439.59 985.50 439.00C987.10 438.41 986.90 438.87 988.50 437.80C990.10 436.73 989.77 436.55 991.50 435.00C993.23 433.45 993.40 433.87 995.00 432.00C996.60 430.13 996.62 429.37 997.50 427.98C998.30 426.58 997.87 427.44 998.30 426.78C998.73 426.12 998.67 426.20 999.10 425.50C999.53 424.80 999.47 424.88 999.90 424.15C1000.33 423.41 1000.27 423.50 1000.70 422.75C1001.13 422.00 1001.07 422.08 1001.50 421.33C1001.93 420.57 1001.87 420.66 1002.30 419.92C1002.73 419.17 1002.67 419.26 1003.10 418.53C1003.53 417.81 1003.47 417.89 1003.90 417.20C1004.33 416.52 1004.27 416.59 1004.70 415.95C1005.13 415.32 1005.07 415.39 1005.50 414.81C1005.93 414.23 1005.87 414.29 1006.30 413.79C1006.73 413.29 1006.67 413.34 1007.10 412.92C1007.53 412.51 1007.47 412.55 1007.90 412.24C1008.33 411.92 1008.27 411.95 1008.70 411.75C1009.13 411.55 1008.70 411.82 1009.50 411.49C1010.65 411.16 1011.27 411.16 1013.00 410.50C1014.73 409.84 1014.40 409.53 1016.00 409.00C1017.60 408.47 1017.27 408.50 1019.00 408.50C1020.73 408.50 1020.77 408.65 1022.50 409.00C1024.23 409.35 1024.03 409.40 1025.50 409.80C1026.97 410.20 1026.67 409.51 1028.00 410.50C1029.33 411.49 1029.03 411.90 1030.50 413.50C1031.97 415.10 1031.90 415.30 1033.50 416.50C1035.10 417.70 1035.03 417.20 1036.50 418.00C1037.97 418.80 1037.67 418.43 1039.00 419.50C1040.33 420.57 1040.03 420.67 1041.50 422.00C1042.97 423.33 1042.77 423.17 1044.50 424.50C1046.23 425.83 1046.27 425.67 1048.00 427.00C1049.73 428.33 1049.40 428.17 1051.00 429.50C1052.60 430.83 1052.53 431.20 1054.00 432.00C1055.47 432.80 1055.30 432.63 1056.50 432.50C1057.70 432.37 1057.43 432.17 1058.50 431.50C1059.57 430.83 1059.43 430.27 1060.50 430.00C1061.57 429.73 1061.30 429.43 1062.50 430.50C1063.70 431.57 1063.67 433.33 1065.00 434.00C1066.33 434.67 1066.17 433.13 1067.50 433.00C1068.83 432.87 1068.53 433.77 1070.00 433.50C1071.47 433.23 1071.40 432.80 1073.00 432.00C1074.60 431.20 1074.40 431.17 1076.00 430.50C1077.60 429.83 1077.40 429.95 1079.00 429.50C1080.60 429.05 1080.53 429.41 1082.00 428.80C1083.47 428.19 1083.17 427.36 1084.50 427.20C1085.83 427.04 1085.67 427.72 1087.00 428.20C1088.33 428.68 1088.03 428.92 1089.50 429.00C1090.97 429.08 1091.03 428.63 1092.50 428.50C1093.97 428.37 1093.53 428.74 1095.00 428.50C1096.47 428.26 1096.40 427.79 1098.00 427.60C1099.60 427.41 1099.40 427.91 1101.00 427.80C1102.60 427.69 1102.40 427.28 1104.00 427.20C1105.60 427.12 1105.53 427.07 1107.00 427.50C1108.47 427.93 1108.17 428.13 1109.50 428.80C1110.83 429.47 1110.80 429.55 1112.00 430.00C1113.20 430.45 1112.80 430.37 1114.00 430.50C1115.20 430.63 1115.17 429.97 1116.50 430.50C1117.83 431.03 1117.67 431.30 1119.00 432.50C1120.33 433.70 1120.17 434.47 1121.50 435.00C1122.83 435.53 1122.80 434.37 1124.00 434.50C1125.20 434.63 1124.80 434.97 1126.00 435.50C1127.20 436.03 1127.17 436.63 1128.50 436.50C1129.83 436.37 1129.53 435.59 1131.00 435.00C1132.47 434.41 1132.67 434.03 1134.00 434.30C1135.33 434.57 1134.93 435.07 1136.00 436.00C1137.07 436.93 1136.80 438.07 1138.00 437.80C1139.20 437.53 1139.30 435.21 1140.50 435.00C1141.70 434.79 1141.30 435.72 1142.50 437.00C1143.70 438.28 1143.67 439.40 1145.00 439.80C1146.33 440.20 1146.17 438.93 1147.50 438.50C1148.83 438.07 1148.67 438.33 1150.00 438.20C1151.33 438.07 1151.17 438.59 1152.50 438.00C1153.83 437.41 1153.80 436.00 1155.00 436.00C1156.20 436.00 1155.93 436.93 1157.00 438.00C1158.07 439.07 1157.93 440.00 1159.00 440.00C1160.07 440.00 1159.93 438.13 1161.00 438.00C1162.07 437.87 1161.93 439.37 1163.00 439.50C1164.07 439.63 1163.80 438.63 1165.00 438.50C1166.20 438.37 1166.17 439.00 1167.50 439.00C1168.83 439.00 1168.53 438.63 1170.00 438.50C1171.47 438.37 1172.20 438.50 1173.00 438.50" stroke="#0c82e0" stroke-width="2.7"/>
<path d="M100.50 456.8L100.62 456.8L100.74 456.9L100.86 456.9L100.98 457.0L101.10 457.0L101.22 457.1L101.34 457.2L101.46 457.2L101.58 457.3L101.70 457.4L101.82 457.4L101.94 457.5L102.06 457.5L102.36 457.7L102.66 457.9L102.96 458.0L103.26 458.2L103.56 458.4L103.86 458.5L104.16 458.7L104.46 458.9L104.76 459.0L105.06 459.2L105.36 459.4L105.66 459.5L105.96 459.7L106.26 459.9L106.56 460.1L107.56 460.7L108.56 461.3L109.56 462.0L110.56 462.7L111.56 463.6L112.56 464.6L113.56 465.7L114.56 467.0L115.56 468.6L116.56 470.3L117.56 472.3L118.56 474.6L119.56 477.2L120.56 480.2L121.56 483.4L122.56 487.0L123.56 491.0L124.56 495.4L125.56 500.1L126.56 505.3L127.56 511.0L128.56 517.2L129.56 524.1L130.56 532.0L130.86 534.6L131.16 537.4L131.46 540.3L131.76 543.4L132.06 546.8L132.36 550.4L132.66 554.3L132.96 558.7L133.26 563.7L133.56 569.3L133.86 575.8L134.16 583.7L134.46 593.4L134.58 598.0L134.70 603.2L134.82 609.2L134.94 616.1L135.06 624.2L135.18 634.2L135.30 640.0M135.71 640.0L136.07 639.2L136.19 625.9L136.31 615.8L136.43 607.8L136.55 601.1L136.67 595.5L136.79 590.6L136.91 586.4L137.03 582.7L137.15 579.4L137.27 576.5L137.57 570.4L137.87 565.3L138.17 560.8L138.47 556.8L138.77 553.2L139.07 549.7L139.37 546.4L139.67 543.3L139.97 540.2L140.27 537.1L140.57 534.1L140.87 531.1L141.17 528.2L141.47 525.2L141.77 522.3L142.77 512.9L143.77 504.2L144.77 496.4L145.77 489.8L146.77 484.1L147.77 479.2L148.77 474.9L149.77 471.1L150.77 467.7L151.77 464.6L152.77 461.8L153.77 459.2L154.77 456.8L155.77 454.6L156.77 452.6L157.77 450.7L158.77 449.0L159.77 447.5L160.77 446.0L161.77 444.6L162.77 443.3L163.77 442.0L164.77 440.7L165.77 439.4L166.77 438.2L167.77 437.0L168.77 435.9L169.77 434.9L170.77 434.1L171.77 433.5L172.77 433.1L173.77 432.9L174.77 432.8L175.77 432.8L176.77 432.8L177.77 432.7L178.77 432.7L179.77 432.6L180.77 432.5L181.77 432.4L182.77 432.5L183.77 432.7L184.77 433.1L185.77 433.7L186.77 434.6L187.77 435.8L188.77 437.1L189.77 438.5L190.77 440.2L191.77 441.9L192.77 443.8L193.77 445.7L194.77 447.7L195.77 449.8L196.77 452.0L197.77 454.3L198.77 456.6L199.77 459.1L200.77 461.9L201.77 465.1L202.77 468.9L203.77 473.7L204.77 479.5L205.77 486.6L206.77 495.2L207.77 504.9L208.07 508.0L208.37 511.2L208.67 514.5L208.97 518.0L209.27 521.6L209.57 525.3L209.87 529.2L210.17 533.3L210.47 537.8L210.77 542.6L211.07 548.0L211.37 554.0L211.67 561.1L211.97 569.7L212.09 573.7L212.21 578.2L212.33 583.3L212.45 589.3L212.57 596.2L212.69 604.5L212.81 614.9L212.93 628.5L213.05 640.0M213.31 640.0L213.67 637.0L213.79 623.1L213.91 612.5L214.03 603.8L214.15 596.5L214.27 590.3L214.39 584.9L214.51 580.1L214.63 575.8L214.75 571.9L214.87 568.3L215.17 560.4L215.47 553.6L215.77 547.5L216.07 542.1L216.37 537.1L216.67 532.4L216.97 527.9L217.27 523.7L217.57 519.6L217.87 515.7L218.17 511.9L218.47 508.2L218.77 504.6L219.07 501.1L219.37 497.7L220.37 487.2L221.37 477.9L222.37 470.0L223.37 463.5L224.37 458.0L225.37 453.2L226.37 449.1L227.37 445.4L228.37 442.0L229.37 438.6L230.37 435.4L231.37 432.4L232.37 429.5L233.37 427.0L234.37 424.7L235.37 422.7L236.37 421.1L237.37 419.8L238.37 418.7L239.37 417.8L240.37 417.0L241.37 416.2L242.37 415.5L243.37 414.7L244.37 413.9L245.37 413.2L246.37 412.5L247.37 411.8L248.37 411.2L249.37 410.8L250.37 410.4L251.37 410.1L252.37 409.9L253.37 409.8L254.37 409.7L255.37 409.7L256.37 409.7L257.37 409.7L258.37 409.9L259.37 410.1L260.37 410.4L261.37 410.8L262.37 411.3L263.37 412.0L264.37 412.7L265.37 413.6L266.37 414.5L267.37 415.5L268.37 416.5L269.37 417.5L270.37 418.5L271.37 419.6L272.37 420.9L273.37 422.4L274.37 424.4L275.37 426.8L276.37 429.9L277.37 433.5L278.37 437.6L279.37 442.1L280.37 446.9L281.37 451.9L282.37 457.0L283.37 462.4L284.37 468.5L285.37 476.4L285.67 479.4L285.97 482.6L286.27 486.2L286.57 490.3L286.87 494.8L287.17 499.8L287.47 505.5L287.77 511.8L288.07 518.9L288.37 527.0L288.67 536.2L288.97 546.8L289.27 559.1L289.57 573.9L289.69 580.7L289.81 588.1L289.93 596.2L290.05 605.4L290.17 615.9L290.29 628.2L290.41 640.0M290.81 640.0L291.17 637.9L291.29 622.7L291.41 610.7L291.53 600.7L291.65 592.1L291.77 584.5L291.89 577.8L292.01 571.6L292.13 566.0L292.25 560.8L292.37 556.0L292.67 545.3L292.97 535.9L293.27 527.7L293.57 520.2L293.87 513.5L294.17 507.3L294.47 501.6L294.77 496.4L295.07 491.5L295.37 486.9L295.67 482.6L295.97 478.5L296.27 474.7L296.57 471.1L296.87 467.7L297.87 457.7L298.87 449.2L299.87 442.0L300.87 435.8L301.87 430.5L302.87 425.9L303.87 421.9L304.87 418.5L305.87 415.4L306.87 412.8L307.87 410.3L308.87 408.1L309.87 406.1L310.87 404.1L311.87 402.3L312.87 400.5L313.87 398.9L314.87 397.3L315.87 395.8L316.87 394.3L317.87 392.9L318.87 391.6L319.87 390.3L320.87 389.1L321.87 388.0L322.87 387.0L323.87 386.0L324.87 385.1L325.87 384.4L326.87 383.7L327.87 383.2L328.87 382.8L329.87 382.6L330.87 382.5L331.87 382.5L332.87 382.8L333.87 383.2L334.87 383.9L335.87 384.7L336.87 385.7L337.87 386.9L338.87 388.1L339.87 389.5L340.87 391.0L341.87 392.5L342.87 394.1L343.87 395.7L344.87 397.3L345.87 399.0L346.87 400.9L347.87 402.9L348.87 405.0L349.87 407.4L350.87 410.0L351.87 412.9L352.87 416.1L353.87 419.6L354.87 423.4L355.87 427.5L356.87 431.9L357.87 436.7L358.87 442.0L359.87 447.8L360.87 454.0L361.87 460.5L362.87 467.0L363.17 469.0L363.47 470.9L363.77 472.9L364.07 475.0L364.37 477.0L364.67 479.2L364.97 481.5L365.27 484.0L365.57 486.7L365.87 489.7L366.17 493.3L366.47 497.6L366.77 503.0L367.07 510.1L367.19 513.6L367.31 517.7L367.43 522.5L367.55 528.2L367.67 535.2L367.79 544.0L367.91 555.7L368.03 572.5L368.15 600.5L368.27 640.0M368.24 640.0L368.36 627.9L368.48 590.8L368.60 569.3L368.72 554.3L368.84 542.9L368.96 533.9L369.08 526.4L369.20 520.1L369.32 514.7L369.44 510.1L369.56 505.9L369.68 502.3L369.80 499.0L370.10 492.1L370.40 486.7L370.70 482.2L371.00 478.4L371.30 475.3L371.60 472.5L371.90 470.1L372.20 467.9L372.50 466.0L372.80 464.2L373.10 462.5L373.40 461.0L373.70 459.5L374.00 458.1L374.30 456.7L375.30 452.3L376.30 448.0L377.30 443.5L378.30 438.9L379.30 434.1L380.30 429.1L381.30 423.9L382.30 418.7L383.30 413.4L384.30 408.2L385.30 403.0L386.30 398.0L387.30 393.1L388.30 388.5L389.30 384.0L390.30 379.9L391.30 376.0L392.30 372.4L393.30 369.1L394.30 366.1L395.30 363.5L396.30 361.1L397.30 358.9L398.30 357.1L399.30 355.5L400.30 354.1L401.30 352.9L402.30 351.9L403.30 351.1L404.30 350.4L405.30 349.9L406.30 349.6L407.30 349.3L408.30 349.3L409.30 349.3L410.30 349.6L411.30 350.0L412.30 350.6L413.30 351.4L414.30 352.6L415.30 354.0L416.30 355.7L417.30 357.8L418.30 360.4L419.30 363.3L420.30 366.8L421.30 370.7L422.30 375.2L423.30 380.3L424.30 385.8L425.30 391.9L426.30 398.4L427.30 405.5L428.30 412.9L429.30 420.7L430.30 428.7L431.30 437.1L431.60 439.7L431.90 442.4L432.20 445.1L432.50 447.9L432.80 450.7L433.10 453.7L433.40 456.8L433.70 460.2L434.00 463.8L434.30 467.7L434.60 472.1L434.90 477.2L435.20 483.1L435.50 490.5L435.62 493.9L435.74 497.8L435.86 502.2L435.98 507.1L436.10 512.9L436.22 519.6L436.34 527.8L436.46 537.9L436.58 551.0L436.70 569.3L436.82 598.3L436.85 640.0M455.65 640.0L455.77 593.5L455.89 574.3L456.01 560.5L456.13 549.9L456.25 541.5L456.37 534.4L456.49 528.4L456.61 523.2L456.73 518.6L456.85 514.4L456.97 510.7L457.09 507.2L457.21 504.0L457.51 496.7L457.81 490.1L458.11 484.1L458.41 478.3L458.71 472.8L459.01 467.3L459.31 462.0L459.61 456.7L459.91 451.5L460.21 446.3L460.51 441.2L460.81 436.1L461.11 431.1L461.41 426.1L461.71 421.2L462.71 405.6L463.71 391.1L464.71 378.1L465.71 366.6L466.71 356.6L467.71 348.0L468.71 340.8L469.71 334.7L470.71 329.6L471.71 325.2L472.71 321.6L473.71 318.4L474.71 315.6L475.71 313.0L476.71 310.7L477.71 308.5L478.71 306.6L479.71 304.8L480.71 303.3L481.71 302.0L482.71 301.1L483.71 300.6L484.71 300.5L485.71 300.8L486.71 301.7L487.71 303.1L488.71 305.0L489.71 307.4L490.71 310.3L491.71 313.6L492.71 317.4L493.71 321.7L494.71 326.5L495.71 332.0L496.71 338.5L497.71 346.4L498.71 356.4L499.71 369.4L500.01 374.1L500.31 379.2L500.61 384.8L500.91 391.0L501.21 397.8L501.51 405.4L501.81 413.7L502.11 422.9L502.41 433.1L502.71 444.5L503.01 457.2L503.31 471.5L503.61 487.6L503.73 494.7L503.85 502.1L503.97 510.0L504.09 518.4L504.21 527.3L504.33 536.8L504.45 547.0L504.57 557.9L504.69 569.8L504.81 582.9L504.93 597.3L505.05 640.0M544.55 640.0L544.67 603.4L544.79 585.9L544.91 569.5L545.03 554.1L545.15 539.6L545.27 526.0L545.39 513.2L545.51 501.0L545.63 489.5L545.75 478.6L545.87 468.3L545.99 458.5L546.11 449.1L546.41 427.7L546.71 408.6L547.01 391.7L547.31 376.6L547.61 363.0L547.91 350.9L548.21 339.9L548.51 330.1L548.81 321.2L549.11 313.2L549.41 305.8L549.71 299.2L550.01 293.1L550.31 287.5L550.61 282.4L551.61 267.8L552.61 256.1L553.61 246.1L554.61 237.4L555.61 229.6L556.61 222.7L557.61 217.0L558.61 212.7L559.61 210.0L560.61 209.2L561.61 210.7L562.61 214.4L563.61 220.4L564.61 228.6L565.61 238.6L566.61 250.4L566.91 254.3L567.21 258.4L567.51 262.7L567.81 267.2L568.11 272.1L568.41 277.5L568.71 283.4L569.01 290.1L569.31 297.9L569.61 307.2L569.91 318.8L570.21 333.7L570.51 353.6L570.63 363.7L570.75 375.3L570.87 388.9L570.99 405.1L571.11 424.6L571.23 448.8L571.35 479.5L571.47 520.3L571.59 578.3L571.71 640.0M633.50 470.00C633.53 453.33 633.52 451.67 633.60 420.00C633.68 388.33 633.60 430.33 633.75 375.00C633.98 319.67 633.75 322.33 634.30 254.00C634.88 185.67 634.73 210.83 635.50 170.00C636.27 129.17 635.87 131.50 636.60 131.50C637.33 131.50 636.93 129.17 637.70 170.00C638.47 210.83 638.32 185.67 638.90 254.00C639.45 322.33 639.22 319.67 639.45 375.00C639.60 430.33 639.48 379.67 639.60 420.00C639.72 460.33 639.73 470.67 639.80 496.00M701.35 640.0L701.47 613.8L701.59 592.1L701.71 572.7L701.83 555.2L701.95 539.4L702.07 524.9L702.19 511.6L702.31 499.3L702.43 487.9L702.55 477.2L702.67 467.3L702.79 457.9L702.91 449.2L703.21 429.4L703.51 412.1L703.81 397.0L704.11 383.5L704.41 371.4L704.71 360.6L705.01 350.9L705.31 342.1L705.61 334.1L705.91 326.9L706.21 320.3L706.51 314.2L706.81 308.7L707.11 303.7L707.41 299.1L708.41 286.6L709.41 277.6L710.41 271.4L711.41 267.5L712.41 265.8L713.41 266.0L714.41 267.8L715.41 271.3L716.41 276.3L717.41 282.7L718.41 290.3L719.41 299.1L720.41 309.1L721.41 320.1L722.41 332.6L722.71 336.6L723.01 340.9L723.31 345.3L723.61 350.0L723.91 355.1L724.21 360.5L724.51 366.4L724.81 372.9L725.11 380.1L725.41 388.3L725.71 397.6L726.01 408.6L726.31 421.6L726.61 437.4L726.91 457.2L727.03 466.6L727.15 477.0L727.27 488.8L727.39 502.1L727.51 517.3L727.63 534.9L727.75 555.6L727.87 580.3L727.99 610.7L728.11 640.0M768.82 640.0L768.94 593.6L769.06 565.3L769.18 547.9L769.30 535.3L769.42 525.2L769.54 516.7L769.66 509.5L769.78 503.1L769.90 497.3L770.02 492.0L770.14 487.2L770.26 482.7L770.38 478.5L770.68 469.1L770.98 460.8L771.28 453.4L771.58 446.7L771.88 440.5L772.18 434.7L772.48 429.3L772.78 424.3L773.08 419.5L773.38 415.0L773.68 410.8L773.98 406.7L774.28 402.9L774.58 399.2L774.88 395.6L775.88 384.9L776.88 375.5L777.88 367.2L778.88 360.0L779.88 353.6L780.88 348.1L781.88 343.3L782.88 339.2L783.88 335.8L784.88 333.0L785.88 330.7L786.88 329.1L787.88 327.9L788.88 327.3L789.88 327.2L790.88 327.5L791.88 328.4L792.88 329.6L793.88 331.4L794.88 333.5L795.88 336.1L796.88 339.2L797.88 342.6L798.88 346.5L799.88 350.8L800.88 355.5L801.88 360.6L802.88 366.2L803.88 372.3L804.88 378.8L805.88 385.8L806.88 393.4L807.88 401.6L808.88 410.5L809.88 420.1L810.88 430.7L811.88 442.5L812.18 446.3L812.48 450.3L812.78 454.4L813.08 458.8L813.38 463.3L813.68 468.1L813.98 473.2L814.28 478.6L814.58 484.4L814.88 490.6L815.18 497.5L815.48 505.1L815.78 513.7L815.90 517.5L816.02 521.6L816.14 525.9L816.26 530.7L816.38 535.8L816.50 541.5L816.62 547.9L816.74 555.1L816.86 563.6L816.98 573.9L817.10 587.0L817.22 605.4L817.25 640.0M836.42 640.0L836.54 584.5L836.66 564.3L836.78 552.0L836.90 542.9L837.02 535.8L837.14 529.8L837.26 524.6L837.38 520.1L837.50 516.0L837.62 512.2L837.74 508.8L837.86 505.6L837.98 502.6L838.28 495.9L838.58 490.0L838.88 484.7L839.18 479.9L839.48 475.4L839.78 471.2L840.08 467.3L840.38 463.6L840.68 460.1L840.98 456.8L841.28 453.6L841.58 450.6L841.88 447.7L842.18 444.8L842.48 442.1L843.48 433.7L844.48 426.2L845.48 419.3L846.48 413.1L847.48 407.4L848.48 402.1L849.48 397.3L850.48 393.0L851.48 389.0L852.48 385.3L853.48 382.1L854.48 379.1L855.48 376.5L856.48 374.2L857.48 372.1L858.48 370.4L859.48 369.0L860.48 367.8L861.48 366.9L862.48 366.2L863.48 365.8L864.48 365.6L865.48 365.7L866.48 366.0L867.48 366.5L868.48 367.2L869.48 368.2L870.48 369.3L871.48 370.6L872.48 372.2L873.48 373.9L874.48 375.7L875.48 377.8L876.48 380.0L877.48 382.4L878.48 384.9L879.48 387.6L880.48 390.4L881.48 393.4L882.48 396.5L883.48 399.7L884.48 403.1L885.48 406.5L886.48 410.2L887.48 413.9L888.48 417.8L889.48 421.7L890.48 425.9L891.48 430.2L892.48 434.6L893.48 439.2L894.48 444.0L895.48 449.0L896.48 454.3L897.48 459.9L898.48 465.9L899.48 472.5L900.48 479.9L900.78 482.3L901.08 484.8L901.38 487.5L901.68 490.3L901.98 493.3L902.28 496.5L902.58 499.9L902.88 503.6L903.18 507.8L903.48 512.4L903.78 517.6L904.08 523.8L904.20 526.6L904.32 529.7L904.44 533.0L904.56 536.7L904.68 540.9L904.80 545.7L904.92 551.4L905.04 558.3L905.16 567.1L905.28 579.5L905.40 600.8L905.51 640.0M905.21 640.0L905.33 627.6L905.45 595.5L905.57 576.9L905.69 564.0L905.81 554.3L905.93 546.7L906.05 540.4L906.17 535.1L906.29 530.6L906.41 526.7L906.53 523.2L906.65 520.1L906.77 517.4L907.07 511.6L907.37 506.9L907.67 503.0L907.97 499.7L908.27 496.8L908.57 494.2L908.87 491.8L909.17 489.6L909.47 487.6L909.77 485.6L910.07 483.7L910.37 481.9L910.67 480.1L910.97 478.3L911.27 476.5L912.27 470.7L913.27 464.9L914.27 459.1L915.27 453.4L916.27 447.8L917.27 442.3L918.27 437.0L919.27 431.8L920.27 426.9L921.27 422.3L922.27 418.1L923.27 414.4L924.27 411.1L925.27 408.3L926.27 405.9L927.27 403.8L928.27 402.0L929.27 400.5L930.27 399.3L931.27 398.2L932.27 397.4L933.27 396.6L934.27 396.0L935.27 395.6L936.27 395.2L937.27 395.0L938.27 394.8L939.27 394.8L940.27 394.8L941.27 395.0L942.27 395.2L943.27 395.5L944.27 395.9L945.27 396.3L946.27 396.9L947.27 397.6L948.27 398.3L949.27 399.2L950.27 400.1L951.27 401.2L952.27 402.3L953.27 403.5L954.27 404.9L955.27 406.3L956.27 407.8L957.27 409.3L958.27 411.0L959.27 412.8L960.27 414.6L961.27 416.6L962.27 418.6L963.27 420.8L964.27 423.1L965.27 425.4L966.27 428.0L967.27 430.7L968.27 433.8L969.27 437.2L970.27 441.1L971.27 445.6L972.27 450.7L973.27 456.5L974.27 463.3L975.27 471.0L976.27 479.8L977.27 489.9L977.57 493.2L977.87 496.7L978.17 500.4L978.47 504.3L978.77 508.4L979.07 512.8L979.37 517.5L979.67 522.6L979.97 528.1L980.27 534.2L980.57 541.0L980.87 548.7L981.17 557.6L981.47 568.2L981.59 573.2L981.71 578.6L981.83 584.7L981.95 591.5L982.07 599.4L982.19 608.7L982.31 620.0L982.43 634.5L982.55 640.0M982.81 640.0L983.17 637.1L983.29 622.4L983.41 610.9L983.53 601.5L983.65 593.4L983.77 586.4L983.89 580.2L984.01 574.6L984.13 569.5L984.25 564.8L984.37 560.5L984.67 550.9L984.97 542.7L985.27 535.4L985.57 528.9L985.87 523.0L986.17 517.6L986.47 512.6L986.77 508.0L987.07 503.6L987.37 499.6L987.67 495.7L987.97 492.1L988.27 488.7L988.57 485.4L988.87 482.3L989.87 473.0L990.87 465.1L991.87 458.3L992.87 452.6L993.87 447.8L994.87 443.6L995.87 440.0L996.87 437.0L997.87 434.3L998.87 432.0L999.87 429.9L1000.87 428.2L1001.87 426.6L1002.87 425.3L1003.87 424.1L1004.87 423.1L1005.87 422.3L1006.87 421.5L1007.87 420.9L1008.87 420.4L1009.87 419.9L1010.87 419.5L1011.87 419.2L1012.87 419.0L1013.87 418.8L1014.87 418.7L1015.87 418.6L1016.87 418.5L1017.87 418.5L1018.87 418.6L1019.87 418.6L1020.87 418.8L1021.87 418.9L1022.87 419.2L1023.87 419.5L1024.87 419.9L1025.87 420.4L1026.87 421.0L1027.87 421.6L1028.87 422.3L1029.87 423.0L1030.87 423.7L1031.87 424.5L1032.87 425.3L1033.87 426.2L1034.87 427.3L1035.87 428.7L1036.87 430.3L1037.87 432.4L1038.87 435.0L1039.87 438.0L1040.87 441.3L1041.87 444.7L1042.87 448.3L1043.87 451.8L1044.87 455.2L1045.87 458.4L1046.87 461.6L1047.87 464.9L1048.87 468.6L1049.87 472.8L1050.87 477.8L1051.87 483.9L1052.87 491.3L1053.87 500.0L1054.17 502.9L1054.47 505.9L1054.77 509.1L1055.07 512.4L1055.37 516.0L1055.67 519.7L1055.97 523.7L1056.27 527.9L1056.57 532.5L1056.87 537.5L1057.17 542.9L1057.47 549.0L1057.77 555.8L1058.07 563.7L1058.37 573.1L1058.49 577.4L1058.61 582.2L1058.73 587.5L1058.85 593.4L1058.97 600.2L1059.09 608.0L1059.21 617.3L1059.33 628.8L1059.45 640.0M1059.81 640.0L1060.17 634.0L1060.29 620.6L1060.41 610.5L1060.53 602.3L1060.65 595.6L1060.77 589.9L1060.89 585.0L1061.01 580.8L1061.13 577.0L1061.25 573.7L1061.37 570.6L1061.67 564.0L1061.97 558.3L1062.27 553.3L1062.57 548.7L1062.87 544.5L1063.17 540.5L1063.47 536.6L1063.77 532.9L1064.07 529.2L1064.37 525.7L1064.67 522.1L1064.97 518.7L1065.27 515.3L1065.57 511.9L1065.87 508.7L1066.87 498.3L1067.87 489.3L1068.87 482.0L1069.87 476.3L1070.87 471.9L1071.87 468.3L1072.87 465.5L1073.87 463.1L1074.87 460.9L1075.87 458.6L1076.87 456.3L1077.87 454.1L1078.87 451.9L1079.87 449.9L1080.87 447.9L1081.87 446.2L1082.87 444.7L1083.87 443.4L1084.87 442.3L1085.87 441.3L1086.87 440.6L1087.87 440.1L1088.87 439.7L1089.87 439.6L1090.87 439.5L1091.87 439.5L1092.87 439.6L1093.87 439.7L1094.87 439.7L1095.87 439.7L1096.87 439.7L1097.87 439.7L1098.87 439.7L1099.87 439.9L1100.87 440.3L1101.87 440.9L1102.87 441.8L1103.87 442.8L1104.87 444.1L1105.87 445.5L1106.87 446.9L1107.87 448.4L1108.87 449.9L1109.87 451.3L1110.87 452.8L1111.87 454.2L1112.87 455.7L1113.87 457.3L1114.87 459.0L1115.87 460.8L1116.87 462.8L1117.87 465.0L1118.87 467.3L1119.87 469.9L1120.87 472.6L1121.87 475.4L1122.87 478.6L1123.87 481.9L1124.87 485.6L1125.87 489.6L1126.87 494.0L1127.87 498.9L1128.87 504.4L1129.87 510.6L1130.87 517.6L1131.87 525.5L1132.17 528.1L1132.47 530.8L1132.77 533.7L1133.07 536.7L1133.37 539.9L1133.67 543.3L1133.97 546.9L1134.27 550.9L1134.57 555.2L1134.87 559.9L1135.17 565.2L1135.47 571.2L1135.77 578.2L1136.07 586.5L1136.37 596.9L1136.49 601.9L1136.61 607.4L1136.73 613.7L1136.85 621.0L1136.97 629.6L1137.09 640.0M1137.61 640.0L1138.09 639.0L1138.21 628.5L1138.33 619.9L1138.45 612.8L1138.57 606.6L1138.69 601.3L1138.81 596.5L1138.93 592.3L1139.05 588.4L1139.17 584.9L1139.47 577.2L1139.77 570.8L1140.07 565.3L1140.37 560.5L1140.67 556.2L1140.97 552.3L1141.27 548.8L1141.57 545.5L1141.87 542.5L1142.17 539.7L1142.47 537.0L1142.77 534.5L1143.07 532.1L1143.37 529.8L1143.67 527.6L1144.67 520.9L1145.67 514.9L1146.67 509.4L1147.67 504.4L1148.67 499.8L1149.67 495.6L1150.67 491.7L1151.67 488.2L1152.67 485.0L1153.67 482.1L1154.67 479.6L1155.67 477.3L1156.67 475.3L1157.67 473.5L1158.67 471.9L1159.67 470.6L1160.67 469.4L1161.67 468.4L1162.67 467.6L1163.67 466.8L1164.67 466.2L1165.67 465.6L1166.67 465.1L1167.67 464.6L1167.97 464.4L1168.27 464.3L1168.57 464.2L1168.87 464.1L1169.17 463.9L1169.47 463.8L1169.77 463.7L1170.07 463.6L1170.37 463.5L1170.67 463.4L1170.97 463.3L1171.27 463.2L1171.57 463.1L1171.69 463.0L1171.81 463.0L1171.93 463.0L1172.05 462.9L1172.17 462.9L1172.29 462.9L1172.41 462.8L1172.53 462.8L1172.65 462.8L1172.77 462.7L1172.89 462.7L1173.00 462.7" stroke="#ff1457" stroke-width="2.6"/>
<polygon points="619.7,577.0 620.6,545.0 622.4,480.0 624.2,455.0 625.4,439.6 627.3,417.0 629.2,400.0 631.0,392.0 633.2,389.0 633.6,420.0 633.4,470.0 632.8,482.0 630.6,482.0 630.6,500.0 629.8,531.0 628.6,531.0 628.2,480.0 627.8,464.0 627.0,470.0 626.2,480.0 625.5,545.0 624.0,565.0 621.5,577.0" fill="#ff1457" stroke="#ff1457" stroke-width="0.6"/><polygon points="639.6,420.0 639.8,392.0 641.0,384.0 642.5,402.0 645.0,424.7 646.2,442.6 648.5,469.0 649.2,480.0 650.0,499.0 651.5,532.0 653.0,557.5 653.5,577.0 648.8,577.0 647.7,532.0 646.6,501.0 646.0,501.0 645.2,577.0 643.0,577.0 643.2,502.0 640.0,498.0 639.6,460.0" fill="#ff1457" stroke="#ff1457" stroke-width="0.6"/>
</g>
<g stroke="#222222" stroke-width="2.6" fill="none"><line x1="207.70" y1="575" x2="207.70" y2="563" /><line x1="314.90" y1="575" x2="314.90" y2="563" /><line x1="422.10" y1="575" x2="422.10" y2="563" /><line x1="529.30" y1="575" x2="529.30" y2="563" /><line x1="636.50" y1="575" x2="636.50" y2="563" /><line x1="743.70" y1="575" x2="743.70" y2="563" /><line x1="850.90" y1="575" x2="850.90" y2="563" /><line x1="958.10" y1="575" x2="958.10" y2="563" /><line x1="1065.30" y1="575" x2="1065.30" y2="563" /><line x1="1172.50" y1="575" x2="1172.50" y2="563" /><line x1="100.5" y1="131.60" x2="112" y2="131.60" /><line x1="100.5" y1="190.73" x2="112" y2="190.73" /><line x1="100.5" y1="249.86" x2="112" y2="249.86" /><line x1="100.5" y1="308.99" x2="112" y2="308.99" /><line x1="100.5" y1="368.12" x2="112" y2="368.12" /><line x1="100.5" y1="427.25" x2="112" y2="427.25" /><line x1="100.5" y1="486.38" x2="112" y2="486.38" /><line x1="100.5" y1="545.51" x2="112" y2="545.51" /></g>
<path d="M100.5 100.8V575H1174" stroke="#222222" stroke-width="3" fill="none"/>
<line x1="1172.6" y1="576.4" x2="1172.6" y2="563" stroke="#222222" stroke-width="3"/>
<g font-size="28px"><text x="100.50" y="615.1" text-anchor="middle">-0.1</text><text x="207.70" y="615.1" text-anchor="middle">-0.08</text><text x="314.90" y="615.1" text-anchor="middle">-0.06</text><text x="422.10" y="615.1" text-anchor="middle">-0.04</text><text x="529.30" y="615.1" text-anchor="middle">-0.02</text><text x="636.50" y="615.1" text-anchor="middle">0</text><text x="743.70" y="615.1" text-anchor="middle">0.02</text><text x="850.90" y="615.1" text-anchor="middle">0.04</text><text x="958.10" y="615.1" text-anchor="middle">0.06</text><text x="1065.30" y="615.1" text-anchor="middle">0.08</text><text x="1172.50" y="615.1" text-anchor="middle">0.1</text><text x="90" y="143.00" text-anchor="end">0</text><text x="90" y="202.13" text-anchor="end">-10</text><text x="90" y="261.26" text-anchor="end">-20</text><text x="90" y="320.39" text-anchor="end">-30</text><text x="90" y="379.52" text-anchor="end">-40</text><text x="90" y="438.65" text-anchor="end">-50</text><text x="90" y="497.78" text-anchor="end">-60</text><text x="90" y="556.91" text-anchor="end">-70</text></g>
<text x="637" y="49" text-anchor="middle" font-size="31.3px" font-weight="bold" fill="#111" textLength="376" lengthAdjust="spacingAndGlyphs">Periodic error grating lobes</text>
<g font-size="29px"><text x="266.1" y="86" textLength="85.5" lengthAdjust="spacingAndGlyphs">Range</text><text x="363.1" y="86" textLength="29.8" lengthAdjust="spacingAndGlyphs">=</text><text x="399.1" y="86" textLength="30.6" lengthAdjust="spacingAndGlyphs">70</text><text x="439.3" y="86" textLength="34.1" lengthAdjust="spacingAndGlyphs">m,</text><text x="481.3" y="86" textLength="63.1" lengthAdjust="spacingAndGlyphs">Yaw</text><text x="555.5" y="86" textLength="65.9" lengthAdjust="spacingAndGlyphs">error</text><text x="634.8" y="86" textLength="29.6" lengthAdjust="spacingAndGlyphs">=</text><text x="668.8" y="86" textLength="77.9" lengthAdjust="spacingAndGlyphs">0.41°,</text><text x="756.3" y="86" textLength="39.4" lengthAdjust="spacingAndGlyphs">Tx</text><text x="806.1" y="86" textLength="29.8" lengthAdjust="spacingAndGlyphs">=</text><text x="839.6" y="86" textLength="41.8" lengthAdjust="spacingAndGlyphs">53,</text><text x="886.5" y="86" textLength="42.2" lengthAdjust="spacingAndGlyphs">Rx</text><text x="938.1" y="86" textLength="29.7" lengthAdjust="spacingAndGlyphs">=</text><text x="974.4" y="86" textLength="32.0" lengthAdjust="spacingAndGlyphs">28</text></g>
<text transform="translate(37.2,338.5) rotate(-90)" text-anchor="middle" font-size="30.8px">Power [dB]</text>
<text x="627.4" y="651.7" font-size="31px" font-style="italic" textLength="17.6" lengthAdjust="spacingAndGlyphs">u</text>
<rect x="760" y="121.7" width="394" height="71.3" fill="#fff" stroke="#222222" stroke-width="2.9"/>
<line x1="767" y1="141.5" x2="839.3" y2="141.5" stroke="#0c82e0" stroke-width="2.8"/>
<line x1="767" y1="174.6" x2="839.3" y2="174.6" stroke="#ff1457" stroke-width="2.8"/>
<text x="844.5" y="150.8" font-size="25.2px" textLength="164" lengthAdjust="spacing">SAS simulation</text>
<text x="844.5" y="184" font-size="25.2px" textLength="302.4" lengthAdjust="spacing">Aperture smoothing function</text>
</svg>
</body></html>
